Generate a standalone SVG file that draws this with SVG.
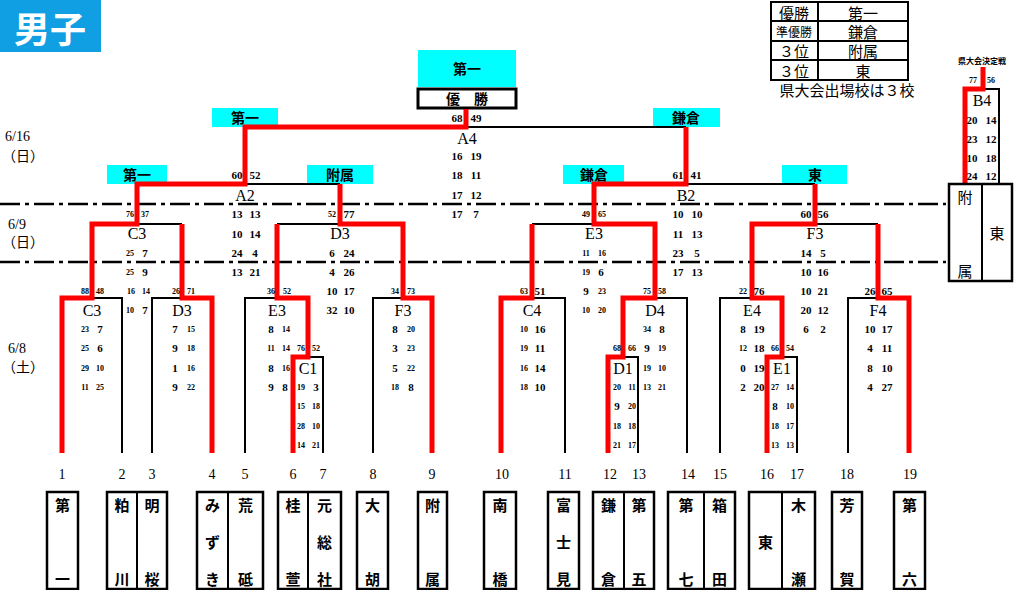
<svg xmlns="http://www.w3.org/2000/svg" width="1018" height="590" viewBox="0 0 1018 590">
<style>
text{dominant-baseline:central;text-anchor:middle}
.s{font-family:"Liberation Serif",serif;font-size:8px;font-weight:bold}
.n{font-family:"Liberation Serif",serif;font-size:11px;font-weight:bold}
.lb{font-family:"Liberation Serif",serif;font-size:16px}
.num{font-family:"Liberation Serif",serif;font-size:14px}
.dt{font-family:"Liberation Serif","Noto Sans CJK JP",serif;font-size:14px;text-anchor:start}
.nm{font-family:"Noto Sans CJK JP",sans-serif;font-size:15px;font-weight:bold}
.nr{font-family:"Noto Sans CJK JP",sans-serif;font-size:15px}
.cy{font-family:"Noto Sans CJK JP",sans-serif;font-size:14px;font-weight:bold}
.tb{font-family:"Noto Sans CJK JP",sans-serif;font-size:15px}
.red{fill:none;stroke:#ff0000;stroke-width:5;stroke-linejoin:miter}
.blk{fill:none;stroke:#000;stroke-width:2}
.box{fill:#fff;stroke:#000;stroke-width:2.5}
.cyan{fill:#00ffff}
.dd{stroke:#000;stroke-width:2.5;stroke-dasharray:20 5 4 5}
</style>

<g id="header">
<rect x="0" y="0" width="101" height="52" fill="#109fe2"/>
<text x="50" y="27" style="font-family:'Noto Sans CJK JP',sans-serif;font-size:36px;font-weight:bold;fill:#fff">男子</text>
</g>

<g id="dates">
<text class="dt" x="5" y="136">6/16</text>
<text class="dt" x="2" y="156">（日）</text>
<text class="dt" x="8" y="224">6/9</text>
<text class="dt" x="2" y="242">（日）</text>
<text class="dt" x="8" y="348">6/8</text>
<text class="dt" x="2" y="367">（土）</text>
</g>

<g id="daylines">
<line class="dd" x1="0" y1="204" x2="946" y2="204"/>
<line class="dd" x1="0" y1="262" x2="946" y2="262"/>
</g>

<g id="results">
<rect x="771" y="2" width="137" height="78" fill="#fff" stroke="#000" stroke-width="2"/>
<line x1="818" y1="2" x2="818" y2="80" stroke="#000" stroke-width="2"/>
<line x1="771" y1="21" x2="908" y2="21" stroke="#000" stroke-width="2"/>
<line x1="771" y1="41" x2="908" y2="41" stroke="#000" stroke-width="2"/>
<line x1="771" y1="60" x2="908" y2="60" stroke="#000" stroke-width="2"/>
<text class="tb" x="794" y="12">優勝</text>
<text class="tb" x="863" y="12">第一</text>
<text class="tb" x="794" y="31" style="font-size:12px">準優勝</text>
<text class="tb" x="863" y="31">鎌倉</text>
<text class="tb" x="794" y="50">３位</text>
<text class="tb" x="863" y="50">附属</text>
<text class="tb" x="794" y="70">３位</text>
<text class="tb" x="863" y="70">東</text>
<text class="tb" x="847" y="89">県大会出場校は３校</text>
</g>

<g id="champion">
<rect class="cyan" x="418" y="50" width="98" height="37"/>
<text class="cy" x="467" y="68">第一</text>
<rect x="418" y="89" width="98" height="19" fill="#fff" stroke="#000" stroke-width="3"/>
<text class="cy" x="467" y="98">優　勝</text>
</g>

<g id="winner-labels">
<rect class="cyan" x="212" y="108" width="66" height="19"/>
<text class="cy" x="245" y="117">第一</text>
<rect class="cyan" x="653" y="108" width="67" height="19"/>
<text class="cy" x="686" y="117">鎌倉</text>
<rect class="cyan" x="107" y="165" width="60" height="19"/>
<text class="cy" x="137" y="174">第一</text>
<rect class="cyan" x="307" y="165" width="66" height="19"/>
<text class="cy" x="340" y="174">附属</text>
<rect class="cyan" x="563" y="165" width="61" height="19"/>
<text class="cy" x="594" y="174">鎌倉</text>
<rect class="cyan" x="782" y="165" width="65" height="19"/>
<text class="cy" x="815" y="174">東</text>
</g>

<g id="connectors">
<path class="blk" d="M466,127 H686"/>
<path class="blk" d="M245,184 H340"/>
<path class="blk" d="M686,184 H815"/>
<path class="blk" d="M137,224 H182"/>
<path class="blk" d="M277,224 H340"/>
<path class="blk" d="M532,224 H594"/>
<path class="blk" d="M815,224 H878"/>
<path class="blk" d="M92,298 H122 V453"/>
<path class="blk" d="M152,453 V298 H182"/>
<path class="blk" d="M245,453 V298 H277"/>
<path class="blk" d="M308,357 H323 V453"/>
<path class="blk" d="M373,453 V298 H403"/>
<path class="blk" d="M532,298 H565 V453"/>
<path class="blk" d="M655,298 H687 V453"/>
<path class="blk" d="M623,357 H638 V453"/>
<path class="blk" d="M720,453 V298 H752"/>
<path class="blk" d="M782,357 H797 V453"/>
<path class="blk" d="M848,453 V298 H878"/>
<path class="blk" d="M983,89 H999 V184"/>
<path class="red" d="M62,453 V298 H92 V224 H137 V184 H245 V127 H466 V109"/>
<path class="red" d="M212,453 V298 H182 V224"/>
<path class="red" d="M293,453 V357 H308 V298 H277 V224"/>
<path class="red" d="M432,453 V298 H403 V224 H340 V184"/>
<path class="red" d="M501,453 V298 H532 V224"/>
<path class="red" d="M608,453 V357 H623 V298 H655 V224 H594 V184 H686 V127"/>
<path class="red" d="M767,453 V357 H782 V298 H752 V224 H815 V184"/>
<path class="red" d="M909,453 V298 H878 V224"/>
<path class="red" d="M965,184 V89 H983 V67"/>
</g>

<g id="A4">
<text class="n" x="457" y="118">68</text><text class="n" x="476" y="118">49</text>
<text class="lb" x="467" y="138">A4</text>
<text class="n" x="457" y="156">16</text><text class="n" x="476" y="156">19</text>
<text class="n" x="457" y="175">18</text><text class="n" x="476" y="175">11</text>
<text class="n" x="457" y="195">17</text><text class="n" x="476" y="195">12</text>
<text class="n" x="457" y="214">17</text><text class="n" x="476" y="214">7</text>
</g>

<g id="A2">
<text class="n" x="237" y="175">60</text><text class="n" x="255" y="175">52</text>
<text class="lb" x="245" y="195">A2</text>
<text class="n" x="237" y="214">13</text><text class="n" x="255" y="214">13</text>
<text class="n" x="237" y="234">10</text><text class="n" x="255" y="234">14</text>
<text class="n" x="237" y="253">24</text><text class="n" x="255" y="253">4</text>
<text class="n" x="237" y="272">13</text><text class="n" x="255" y="272">21</text>
</g>

<g id="B2">
<text class="n" x="678" y="175">61</text><text class="n" x="696" y="175">41</text>
<text class="lb" x="686" y="195">B2</text>
<text class="n" x="678" y="214">10</text><text class="n" x="697" y="214">10</text>
<text class="n" x="678" y="234">11</text><text class="n" x="697" y="234">13</text>
<text class="n" x="678" y="253">23</text><text class="n" x="697" y="253">5</text>
<text class="n" x="678" y="272">17</text><text class="n" x="697" y="272">13</text>
</g>

<g id="C3-2">
<text class="s" x="130" y="214">76</text><text class="s" x="145" y="214">37</text>
<text class="lb" x="137" y="233">C3</text>
<text class="s" x="130" y="253">25</text><text class="n" x="145" y="253">7</text>
<text class="s" x="130" y="272">25</text><text class="n" x="145" y="272">9</text>
<text class="s" x="131" y="291">16</text><text class="s" x="146" y="291">14</text>
<text class="s" x="130" y="310">10</text><text class="n" x="145" y="310">7</text>
</g>

<g id="D3-2">
<text class="s" x="332" y="214">52</text><text class="n" x="349" y="214">77</text>
<text class="lb" x="340" y="233">D3</text>
<text class="n" x="332" y="253">6</text><text class="n" x="349" y="253">24</text>
<text class="n" x="332" y="272">4</text><text class="n" x="349" y="272">26</text>
<text class="n" x="332" y="291">10</text><text class="n" x="349" y="291">17</text>
<text class="n" x="332" y="310">32</text><text class="n" x="349" y="310">10</text>
</g>

<g id="E3-2">
<text class="s" x="586" y="214">49</text><text class="s" x="602" y="214">65</text>
<text class="lb" x="594" y="233">E3</text>
<text class="s" x="586" y="253">11</text><text class="s" x="602" y="253">16</text>
<text class="s" x="586" y="272">19</text><text class="n" x="601" y="272">6</text>
<text class="n" x="586" y="291">9</text><text class="s" x="602" y="291">23</text>
<text class="s" x="586" y="310">10</text><text class="s" x="602" y="310">20</text>
</g>

<g id="F3-2">
<text class="n" x="806" y="214">60</text><text class="n" x="823" y="214">56</text>
<text class="lb" x="815" y="233">F3</text>
<text class="n" x="806" y="253">14</text><text class="n" x="823" y="253">5</text>
<text class="n" x="806" y="272">10</text><text class="n" x="823" y="272">16</text>
<text class="n" x="806" y="291">10</text><text class="n" x="823" y="291">21</text>
<text class="n" x="806" y="310">20</text><text class="n" x="823" y="310">12</text>
<text class="n" x="806" y="329">6</text><text class="n" x="823" y="329">2</text>
</g>

<g id="C3-1">
<text class="s" x="85" y="291">88</text><text class="s" x="100" y="291">48</text>
<text class="lb" x="92" y="310">C3</text>
<text class="s" x="85" y="329">23</text><text class="n" x="100" y="329">7</text>
<text class="s" x="85" y="348">25</text><text class="n" x="100" y="348">6</text>
<text class="s" x="85" y="368">29</text><text class="s" x="100" y="368">10</text>
<text class="s" x="85" y="387">11</text><text class="s" x="100" y="387">25</text>
</g>

<g id="D3-1">
<text class="s" x="176" y="291">26</text><text class="s" x="191" y="291">71</text>
<text class="lb" x="182" y="310">D3</text>
<text class="n" x="175" y="329">7</text><text class="s" x="191" y="329">15</text>
<text class="n" x="175" y="348">9</text><text class="s" x="191" y="348">18</text>
<text class="n" x="175" y="368">1</text><text class="s" x="191" y="368">16</text>
<text class="n" x="175" y="387">9</text><text class="s" x="191" y="387">22</text>
</g>

<g id="E3-1">
<text class="s" x="271" y="291">36</text><text class="s" x="287" y="291">52</text>
<text class="lb" x="277" y="310">E3</text>
<text class="n" x="271" y="329">8</text><text class="s" x="286" y="329">14</text>
<text class="s" x="271" y="348">11</text><text class="s" x="286" y="348">14</text>
<text class="n" x="271" y="368">8</text><text class="s" x="286" y="368">16</text>
<text class="n" x="271" y="387">9</text><text class="n" x="285" y="387">8</text>
</g>

<g id="C1">
<text class="s" x="301" y="348">76</text><text class="s" x="316" y="348">52</text>
<text class="lb" x="308" y="368">C1</text>
<text class="s" x="301" y="387">19</text><text class="n" x="316" y="387">3</text>
<text class="s" x="301" y="406">15</text><text class="s" x="316" y="406">18</text>
<text class="s" x="301" y="426">28</text><text class="s" x="316" y="426">10</text>
<text class="s" x="301" y="445">14</text><text class="s" x="316" y="445">21</text>
</g>

<g id="F3-1">
<text class="s" x="395" y="291">34</text><text class="s" x="411" y="291">73</text>
<text class="lb" x="403" y="310">F3</text>
<text class="n" x="395" y="329">8</text><text class="s" x="411" y="329">20</text>
<text class="n" x="395" y="348">3</text><text class="s" x="411" y="348">23</text>
<text class="n" x="395" y="368">5</text><text class="s" x="411" y="368">22</text>
<text class="s" x="395" y="387">18</text><text class="n" x="411" y="387">8</text>
</g>

<g id="C4">
<text class="s" x="524" y="291">63</text><text class="n" x="540" y="291">51</text>
<text class="lb" x="532" y="310">C4</text>
<text class="s" x="524" y="329">10</text><text class="n" x="540" y="329">16</text>
<text class="s" x="524" y="348">19</text><text class="n" x="540" y="348">11</text>
<text class="s" x="524" y="368">16</text><text class="n" x="540" y="368">14</text>
<text class="s" x="524" y="387">18</text><text class="n" x="540" y="387">10</text>
</g>

<g id="D4">
<text class="s" x="647" y="291">75</text><text class="s" x="662" y="291">58</text>
<text class="lb" x="655" y="310">D4</text>
<text class="s" x="647" y="329">34</text><text class="n" x="662" y="329">8</text>
<text class="n" x="647" y="348">9</text><text class="s" x="662" y="348">19</text>
<text class="s" x="647" y="368">19</text><text class="s" x="662" y="368">10</text>
<text class="s" x="647" y="387">13</text><text class="s" x="662" y="387">21</text>
</g>

<g id="D1">
<text class="s" x="617" y="348">68</text><text class="s" x="632" y="348">66</text>
<text class="lb" x="623" y="368">D1</text>
<text class="s" x="617" y="387">20</text><text class="s" x="632" y="387">11</text>
<text class="n" x="617" y="406">9</text><text class="s" x="632" y="406">20</text>
<text class="s" x="617" y="426">18</text><text class="s" x="632" y="426">18</text>
<text class="s" x="617" y="445">21</text><text class="s" x="632" y="445">17</text>
</g>

<g id="E4">
<text class="s" x="743" y="291">22</text><text class="n" x="759" y="291">76</text>
<text class="lb" x="752" y="310">E4</text>
<text class="n" x="743" y="329">8</text><text class="n" x="759" y="329">19</text>
<text class="s" x="743" y="348">12</text><text class="n" x="759" y="348">18</text>
<text class="n" x="743" y="368">0</text><text class="n" x="759" y="368">19</text>
<text class="n" x="743" y="387">2</text><text class="n" x="759" y="387">20</text>
</g>

<g id="E1">
<text class="s" x="775" y="348">66</text><text class="s" x="790" y="348">54</text>
<text class="lb" x="782" y="368">E1</text>
<text class="s" x="775" y="387">27</text><text class="s" x="790" y="387">14</text>
<text class="n" x="775" y="406">8</text><text class="s" x="790" y="406">10</text>
<text class="s" x="775" y="426">18</text><text class="s" x="790" y="426">17</text>
<text class="s" x="775" y="445">13</text><text class="s" x="790" y="445">13</text>
</g>

<g id="F4">
<text class="n" x="870" y="291">26</text><text class="n" x="887" y="291">65</text>
<text class="lb" x="878" y="310">F4</text>
<text class="n" x="870" y="329">10</text><text class="n" x="887" y="329">17</text>
<text class="n" x="870" y="348">4</text><text class="n" x="887" y="348">11</text>
<text class="n" x="870" y="368">8</text><text class="n" x="887" y="368">10</text>
<text class="n" x="870" y="387">4</text><text class="n" x="887" y="387">27</text>
</g>

<g id="B4">
<text x="982" y="60" style="font-family:'Noto Sans CJK JP',sans-serif;font-size:8px;font-weight:bold">県大会決定戦</text>
<text class="s" x="973" y="80">77</text><text class="s" x="991" y="80">56</text>
<text class="lb" x="982" y="100">B4</text>
<text class="n" x="972" y="120">20</text><text class="n" x="991" y="120">14</text>
<text class="n" x="972" y="139">23</text><text class="n" x="991" y="139">12</text>
<text class="n" x="972" y="158">10</text><text class="n" x="991" y="158">18</text>
<text class="n" x="972" y="176">24</text><text class="n" x="991" y="176">12</text>
</g>

<g id="B4-teams">
<rect class="box" x="949" y="184" width="63" height="97"/>
<line x1="982" y1="184" x2="982" y2="281" stroke="#000" stroke-width="2"/>
<text class="nr" x="965" y="196">附</text>
<text class="nr" x="965" y="270">属</text>
<text class="nr" x="997" y="232">東</text>
</g>

<g id="numbers">
<text class="num" x="62" y="474">1</text>
<text class="num" x="122" y="474">2</text>
<text class="num" x="152" y="474">3</text>
<text class="num" x="212" y="474">4</text>
<text class="num" x="245" y="474">5</text>
<text class="num" x="293" y="474">6</text>
<text class="num" x="323" y="474">7</text>
<text class="num" x="373" y="474">8</text>
<text class="num" x="432" y="474">9</text>
<text class="num" x="502" y="474">10</text>
<text class="num" x="565" y="474">11</text>
<text class="num" x="610" y="474">12</text>
<text class="num" x="639" y="474">13</text>
<text class="num" x="688" y="474">14</text>
<text class="num" x="720" y="474">15</text>
<text class="num" x="767" y="474">16</text>
<text class="num" x="797" y="474">17</text>
<text class="num" x="847" y="474">18</text>
<text class="num" x="910" y="474">19</text>
</g>

<g id="team-1"><rect class="box" x="47" y="492" width="31" height="97"/><text class="nm" x="62.5" y="504">第</text><text class="nm" x="62.5" y="578">一</text></g>
<g id="team-2-3"><rect class="box" x="107" y="492" width="60" height="97"/><line x1="137" y1="492" x2="137" y2="589" stroke="#000" stroke-width="2"/>
<text class="nm" x="122" y="504">粕</text><text class="nm" x="122" y="578">川</text>
<text class="nm" x="152" y="504">明</text><text class="nm" x="152" y="578">桜</text></g>
<g id="team-4-5"><rect class="box" x="197" y="492" width="66" height="97"/><line x1="228" y1="492" x2="228" y2="589" stroke="#000" stroke-width="2"/>
<text class="nm" x="212.5" y="504">み</text><text class="nm" x="212.5" y="541">ず</text><text class="nm" x="212.5" y="578">き</text>
<text class="nm" x="245.5" y="504">荒</text><text class="nm" x="245.5" y="578">砥</text></g>
<g id="team-6-7"><rect class="box" x="278" y="492" width="63" height="97"/><line x1="308" y1="492" x2="308" y2="589" stroke="#000" stroke-width="2"/>
<text class="nm" x="293" y="504">桂</text><text class="nm" x="293" y="578">萱</text>
<text class="nm" x="324.5" y="504">元</text><text class="nm" x="324.5" y="541">総</text><text class="nm" x="324.5" y="578">社</text></g>
<g id="team-8"><rect class="box" x="357" y="492" width="31" height="97"/><text class="nm" x="372.5" y="504">大</text><text class="nm" x="372.5" y="578">胡</text></g>
<g id="team-9"><rect class="box" x="418" y="492" width="29" height="97"/><text class="nm" x="432.5" y="504">附</text><text class="nm" x="432.5" y="578">属</text></g>
<g id="team-10"><rect class="box" x="484" y="492" width="32" height="97"/><text class="nm" x="500" y="504">南</text><text class="nm" x="500" y="578">橋</text></g>
<g id="team-11"><rect class="box" x="548" y="492" width="31" height="97"/><text class="nm" x="563.5" y="504">富</text><text class="nm" x="563.5" y="541">士</text><text class="nm" x="563.5" y="578">見</text></g>
<g id="team-12-13"><rect class="box" x="593" y="492" width="61" height="97"/><line x1="624" y1="492" x2="624" y2="589" stroke="#000" stroke-width="2"/>
<text class="nm" x="608.5" y="504">鎌</text><text class="nm" x="608.5" y="578">倉</text>
<text class="nm" x="639" y="504">第</text><text class="nm" x="639" y="578">五</text></g>
<g id="team-14-15"><rect class="box" x="668" y="492" width="67" height="97"/><line x1="704" y1="492" x2="704" y2="589" stroke="#000" stroke-width="2"/>
<text class="nm" x="686" y="504">第</text><text class="nm" x="686" y="578">七</text>
<text class="nm" x="719.5" y="504">箱</text><text class="nm" x="719.5" y="578">田</text></g>
<g id="team-16-17"><rect class="box" x="749" y="492" width="66" height="97"/><line x1="782" y1="492" x2="782" y2="589" stroke="#000" stroke-width="2"/>
<text class="nm" x="765.5" y="541">東</text>
<text class="nm" x="798.5" y="504">木</text><text class="nm" x="798.5" y="578">瀬</text></g>
<g id="team-18"><rect class="box" x="832" y="492" width="30" height="97"/><text class="nm" x="847" y="504">芳</text><text class="nm" x="847" y="578">賀</text></g>
<g id="team-19"><rect class="box" x="894" y="492" width="31" height="97"/><text class="nm" x="909.5" y="504">第</text><text class="nm" x="909.5" y="578">六</text></g>
</svg>
